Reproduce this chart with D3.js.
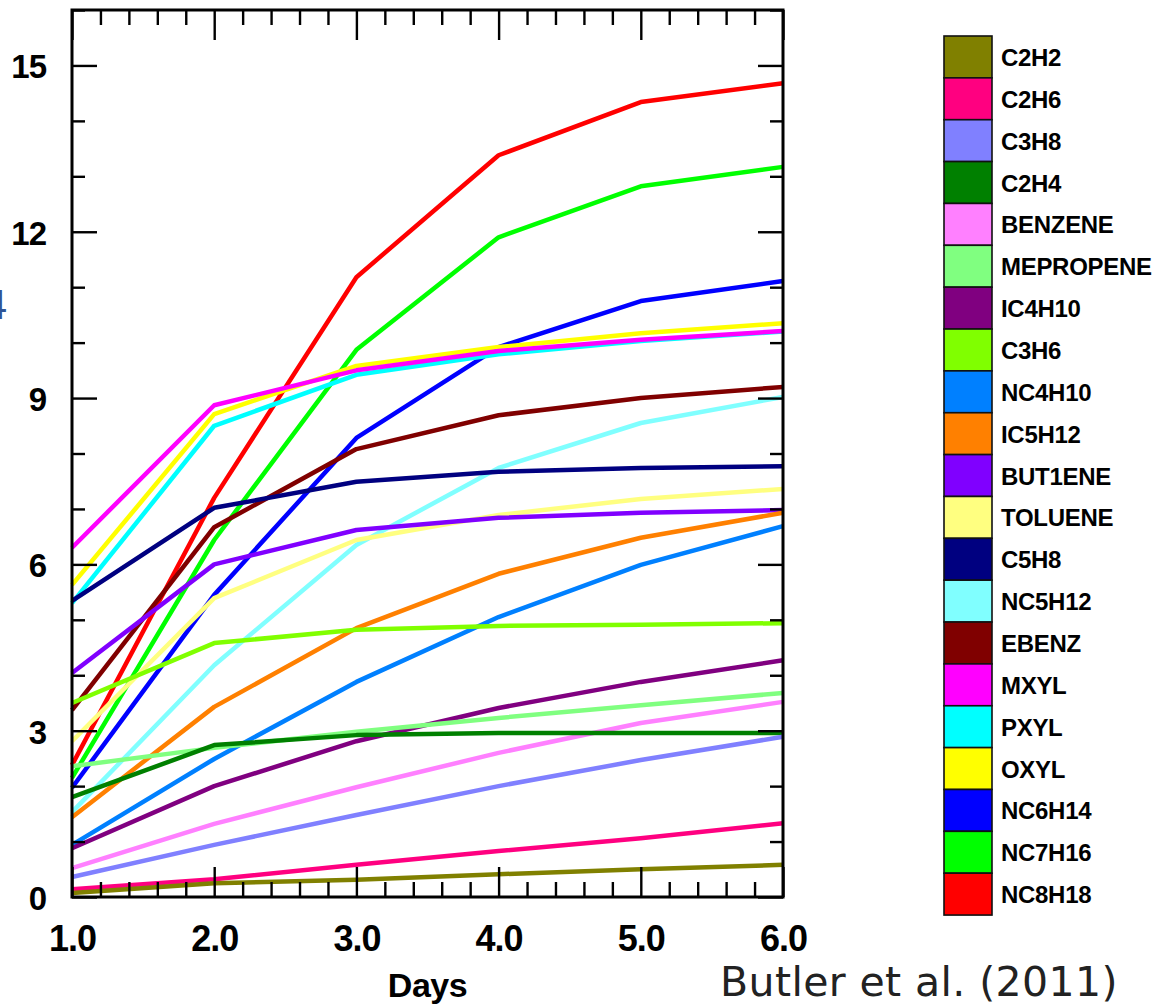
<!DOCTYPE html>
<html>
<head>
<meta charset="utf-8">
<script src="https://cdn.jsdelivr.net/npm/d3@7"></script>
<style>
  html, body { margin: 0; padding: 0; background: #fff; }
  svg { display: block; }
  text { font-family: "Liberation Sans", Arial, sans-serif; }
  text.cite { font-family: "DejaVu Sans", sans-serif; }
</style>
</head>
<body>
<svg id="chart" width="1170" height="1008"></svg>
<script>
// ---- data ----
const days = [1, 2, 3, 4, 5, 6];
const species = ["C2H2","C2H6","C3H8","C2H4","BENZENE","MEPROPENE","IC4H10","C3H6","NC4H10","IC5H12",
                 "BUT1ENE","TOLUENE","C5H8","NC5H12","EBENZ","MXYL","PXYL","OXYL","NC6H14","NC7H16","NC8H18"];
const colors = ["#808000","#ff0080","#8080ff","#008000","#ff80ff","#80ff80","#800080","#80ff00","#0080ff","#ff8000",
                "#8000ff","#ffff80","#000080","#80ffff","#800000","#ff00ff","#00ffff","#ffff00","#0000ff","#00ff00","#ff0000"];
const C2H2      = [0.07, 0.25, 0.31, 0.41, 0.50, 0.58];
const C2H6      = [0.14, 0.32, 0.58, 0.83, 1.06, 1.33];
const C3H8      = [0.36, 0.94, 1.48, 2.00, 2.47, 2.89];
const C2H4      = [1.80, 2.74, 2.92, 2.96, 2.96, 2.96];
const BENZENE   = [0.52, 1.32, 1.98, 2.60, 3.14, 3.52];
const MEPROPENE = [2.36, 2.69, 2.98, 3.23, 3.46, 3.68];
const IC4H10    = [0.88, 2.00, 2.81, 3.41, 3.88, 4.27];
const C3H6      = [3.50, 4.58, 4.82, 4.89, 4.91, 4.94];
const NC4H10    = [0.94, 2.49, 3.88, 5.05, 5.99, 6.69];
const IC5H12    = [1.44, 3.43, 4.85, 5.83, 6.48, 6.93];
const BUT1ENE   = [4.04, 6.00, 6.62, 6.84, 6.93, 6.98];
const TOLUENE   = [2.81, 5.39, 6.44, 6.89, 7.18, 7.36];
const C5H8      = [5.34, 7.02, 7.49, 7.67, 7.74, 7.77];
const NC5H12    = [1.53, 4.18, 6.35, 7.74, 8.55, 9.02];
const EBENZ     = [3.37, 6.67, 8.08, 8.69, 9.00, 9.20];
const MXYL      = [6.30, 8.87, 9.50, 9.85, 10.05, 10.21];
const PXYL      = [5.30, 8.50, 9.42, 9.79, 10.03, 10.20];
const OXYL      = [5.63, 8.71, 9.58, 9.92, 10.17, 10.35];
const NC6H14    = [1.97, 5.45, 8.28, 9.92, 10.75, 11.11];
const NC7H16    = [2.15, 6.44, 9.87, 11.90, 12.82, 13.17];
const NC8H18    = [2.38, 7.20, 11.18, 13.38, 14.34, 14.68];
const seriesValues = [C2H2, C2H6, C3H8, C2H4, BENZENE, MEPROPENE, IC4H10, C3H6, NC4H10, IC5H12,
                      BUT1ENE, TOLUENE, C5H8, NC5H12, EBENZ, MXYL, PXYL, OXYL, NC6H14, NC7H16, NC8H18];
const xMajorTicks = [1, 2, 3, 4, 5, 6];
const xTickLabels = ["1.0", "2.0", "3.0", "4.0", "5.0", "6.0"];
const yMajorTicks = [0, 3, 6, 9, 12, 15];
const yTickLabels = ["0", "3", "6", "9", "12", "15"];
const xTitle = "Days";
const citation = "Butler et al. (2011)";

// ---- layout ----
const svg = d3.select("#chart");
const L = 72, R = 783, T = 10, B = 897;
const x = d3.scaleLinear().domain([1, 6]).range([L, R]);
const y = d3.scaleLinear().domain([0, 16]).range([B, T]);

const xMinor = d3.range(1, 6.0001, 0.2).map(v => +v.toFixed(2)).filter(v => !xMajorTicks.includes(v));
const yMinor = d3.range(0, 16.0001, 1).filter(v => !yMajorTicks.includes(v));

// partially clipped axis-title glyph at far left (cut by the image edge in the reference)
svg.append("text").attr("x", 7).attr("y", 319).attr("text-anchor", "end")
  .attr("font-size", 42).attr("fill", "#2f5597").text("4");

// lines (drawn in reverse legend order)
const line = d3.line().x((d, i) => x(days[i])).y(d => y(d));
const lines = svg.append("g");
for (let i = seriesValues.length - 1; i >= 0; i--) {
  lines.append("path").datum(seriesValues[i])
    .attr("d", line).attr("fill", "none")
    .attr("stroke", colors[i]).attr("stroke-width", 4.5)
    .attr("stroke-linejoin", "round");
}

// axes
function styleAxis(g) {
  g.select(".domain").remove();
  g.selectAll(".tick line").attr("stroke", "#000").attr("stroke-width", 2.4);
}
const fmtX = d => xTickLabels[xMajorTicks.indexOf(d)];
const fmtY = d => yTickLabels[yMajorTicks.indexOf(d)];

const gb = svg.append("g").attr("transform", `translate(0,${B})`)
  .call(d3.axisBottom(x).tickValues(xMajorTicks).tickSize(-30).tickPadding(28).tickFormat(fmtX));
styleAxis(gb);
gb.selectAll("text").attr("font-size", 36).attr("font-weight", "bold").attr("fill", "#000")
  .attr("letter-spacing", -1);
svg.append("g").attr("transform", `translate(0,${B})`)
  .call(d3.axisBottom(x).tickValues(xMinor).tickSize(-15).tickFormat("")).call(styleAxis);
svg.append("g").attr("transform", `translate(0,${T})`)
  .call(d3.axisTop(x).tickValues(xMajorTicks).tickSize(-30).tickFormat("")).call(styleAxis);
svg.append("g").attr("transform", `translate(0,${T})`)
  .call(d3.axisTop(x).tickValues(xMinor).tickSize(-15).tickFormat("")).call(styleAxis);

const gl = svg.append("g").attr("transform", `translate(${L},0)`)
  .call(d3.axisLeft(y).tickValues(yMajorTicks).tickSize(-25).tickPadding(26).tickFormat(fmtY));
styleAxis(gl);
gl.selectAll("text").attr("font-size", 33).attr("font-weight", "bold").attr("fill", "#000")
  .attr("dy", "0.38em").attr("letter-spacing", -1);
svg.append("g").attr("transform", `translate(${L},0)`)
  .call(d3.axisLeft(y).tickValues(yMinor).tickSize(-13).tickFormat("")).call(styleAxis);
svg.append("g").attr("transform", `translate(${R},0)`)
  .call(d3.axisRight(y).tickValues(yMajorTicks).tickSize(-25).tickFormat("")).call(styleAxis);
svg.append("g").attr("transform", `translate(${R},0)`)
  .call(d3.axisRight(y).tickValues(yMinor).tickSize(-13).tickFormat("")).call(styleAxis);

// frame
svg.append("rect").attr("x", L).attr("y", T).attr("width", R - L).attr("height", B - T)
  .attr("fill", "none").attr("stroke", "#000").attr("stroke-width", 3);

// axis title
svg.append("text").attr("x", (L + R) / 2).attr("y", 997).attr("text-anchor", "middle")
  .attr("font-size", 34).attr("font-weight", "bold").attr("letter-spacing", -0.5).text(xTitle);

// citation
svg.append("text").attr("class", "cite").attr("x", 720).attr("y", 996)
  .attr("font-size", 41).attr("fill", "#222").attr("letter-spacing", 0.4).text(citation);

// legend
const legTop = 36, rowH = 41.86, boxX = 944, boxW = 48;
const leg = svg.append("g");
species.forEach((name, i) => {
  const ty = legTop + i * rowH;
  leg.append("rect").attr("x", boxX).attr("y", ty).attr("width", boxW).attr("height", rowH)
    .attr("fill", colors[i]).attr("stroke", "#111").attr("stroke-width", 1.6);
  leg.append("text").attr("x", 1001).attr("y", ty + rowH / 2 + 9)
    .attr("font-size", 24).attr("font-weight", "bold").attr("letter-spacing", -0.3).text(name);
});
</script>
</body>
</html>
